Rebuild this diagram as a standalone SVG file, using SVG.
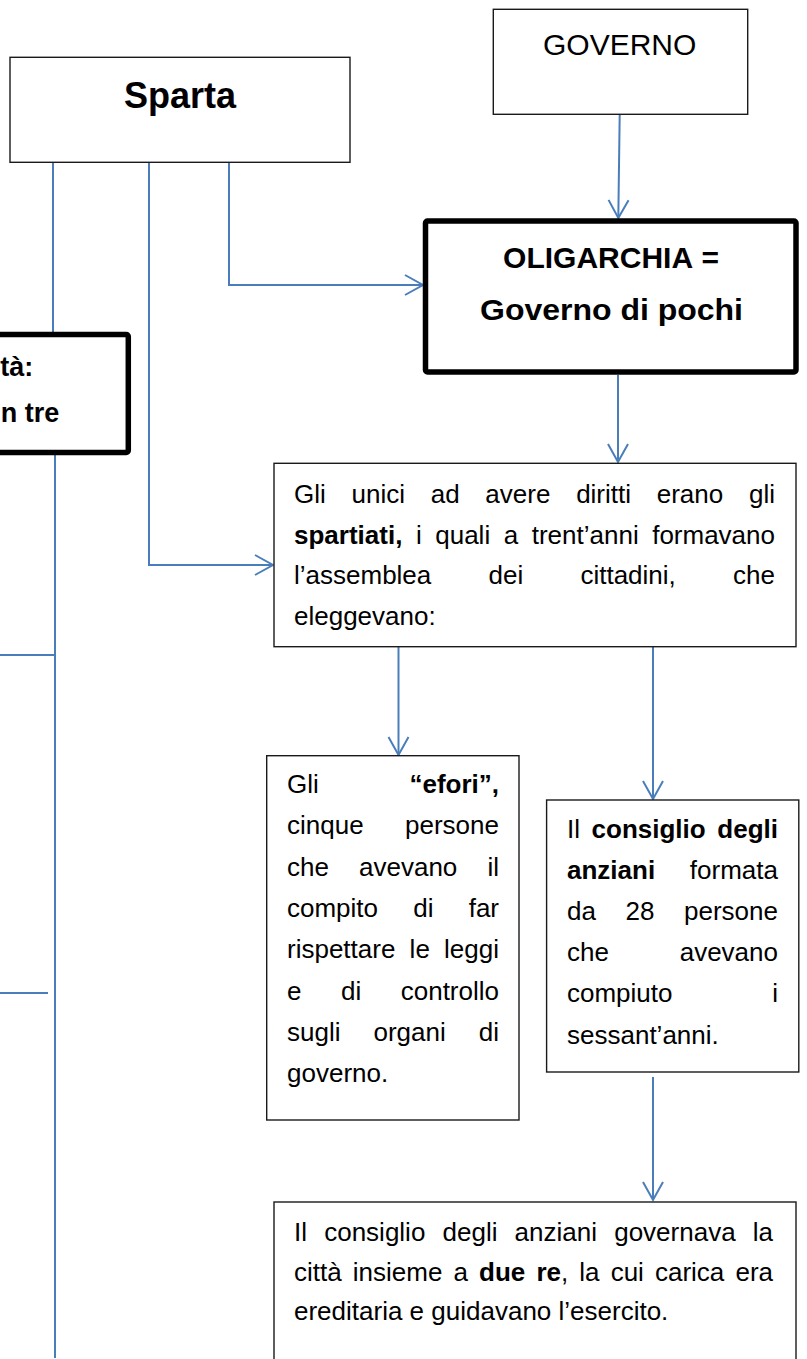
<svg xmlns="http://www.w3.org/2000/svg" width="807" height="1359" viewBox="0 0 807 1359">
<style>
text{font-family:"Liberation Sans",Arial,sans-serif;fill:#000;font-kerning:none}
.t{font-size:26px}
.b{font-weight:bold}
.e{text-anchor:end}
.m{text-anchor:middle}
.box{fill:#fff;stroke:#1a1a1a;stroke-width:1.4}
.thick{fill:#fff;stroke:#000;stroke-width:5.5}
.c{fill:none;stroke:#4a7ebb;stroke-width:2}
.a{marker-end:url(#arr)}
</style>
<defs>
<marker id="arr" markerUnits="userSpaceOnUse" viewBox="-20 -12 22 24" markerWidth="22" markerHeight="24" refX="0" refY="0" orient="auto" overflow="visible">
<path d="M-18,-10 L0,0 L-18,10" fill="none" stroke="#4a7ebb" stroke-width="2"/>
</marker>
</defs>
<rect width="807" height="1359" fill="#fff"/>

<g id="connectors">
<path class="c" d="M53,162 V333"/>
<path class="c" d="M55,455 V1358"/>
<path class="c" d="M0,655 H55"/>
<path class="c" d="M0,993 H48"/>
<path class="c a" d="M149,162 V565 H273"/>
<path class="c a" d="M229,162 V285 H423"/>
<path class="c a" d="M619.7,114.3 L618.3,218"/>
<path class="c a" d="M618,375 V462"/>
<path class="c a" d="M398.5,647 V755"/>
<path class="c a" d="M653,647 V799"/>
<path class="c a" d="M653,1077 V1200"/>
</g>

<g id="node-sparta">
<rect class="box" x="10" y="57.3" width="340" height="105"/>
<text class="b m" x="180" y="108.3" font-size="36">Sparta</text>
</g>

<g id="node-governo">
<rect class="box" x="493.3" y="9.3" width="254.4" height="105"/>
<text class="m" x="619.7" y="54.5" font-size="30">GOVERNO</text>
</g>

<g id="node-oligarchia">
<rect class="thick" x="425.5" y="221" width="370.5" height="151" rx="2"/>
<text class="b m" x="611" y="268.3" font-size="30">OLIGARCHIA =</text>
<text class="b" x="480" y="320" font-size="30" textLength="263" lengthAdjust="spacingAndGlyphs">Governo di pochi</text>
</g>

<g id="node-societa">
<rect class="thick" x="-20" y="334.5" width="148.3" height="118" rx="2" stroke-width="4.5"/>
<text class="b e" x="33.3" y="376" font-size="27">tà:</text>
<text class="b e" x="59.3" y="421.7" font-size="27">n tre</text>
</g>

<g id="node-spartiati" class="t">
<rect class="box" x="274" y="463.3" width="522" height="183.4"/>
<text class="t" y="503"><tspan x="294">Gli</tspan><tspan x="351.51">unici</tspan><tspan x="430.71">ad</tspan><tspan x="485.36">avere</tspan><tspan x="576.13">diritti</tspan><tspan x="656.76">erano</tspan></text>
<text class="t e" x="775" y="503">gli</text>
<text class="t" y="543.5"><tspan x="294" class="b">spartiati,</tspan><tspan x="415.92">i</tspan><tspan x="435.24">quali</tspan><tspan x="503.7">a</tspan><tspan x="531.71">trent’anni</tspan></text>
<text class="t e" x="775" y="543.5">formavano</text>
<text class="t" y="584"><tspan x="294">l’assemblea</tspan><tspan x="488.51">dei</tspan><tspan x="580.45">cittadini,</tspan></text>
<text class="t e" x="775" y="584">che</text>
<text class="t" x="294" y="624.5">eleggevano:</text>
</g>

<g id="node-efori">
<rect class="box" x="266.7" y="755.7" width="252.3" height="364.3"/>
<text class="t" x="287" y="793">Gli</text>
<text class="t e b" x="499" y="793">“efori”,</text>
<text class="t" x="287" y="834.3">cinque</text>
<text class="t e" x="499" y="834.3">persone</text>
<text class="t" y="875.6"><tspan x="287">che</tspan><tspan x="359.04">avevano</tspan></text>
<text class="t e" x="499" y="875.6">il</text>
<text class="t" y="916.9"><tspan x="287">compito</tspan><tspan x="413.23">di</tspan></text>
<text class="t e" x="499" y="916.9">far</text>
<text class="t" y="958.2"><tspan x="287">rispettare</tspan><tspan x="409.62">le</tspan></text>
<text class="t e" x="499" y="958.2">leggi</text>
<text class="t" y="999.5"><tspan x="287">e</tspan><tspan x="340.99">di</tspan></text>
<text class="t e" x="499" y="999.5">controllo</text>
<text class="t" y="1040.8"><tspan x="287">sugli</tspan><tspan x="373.49">organi</tspan></text>
<text class="t e" x="499" y="1040.8">di</text>
<text class="t" x="287" y="1082.1">governo.</text>
</g>

<g id="node-consiglio">
<rect class="box" x="546.6" y="800" width="252.2" height="272"/>
<text class="t" y="838"><tspan x="567">Il</tspan><tspan x="591.59" class="b">consiglio</tspan></text>
<text class="t e b" x="778" y="838">degli</text>
<text class="t b" x="567" y="879.1">anziani</text>
<text class="t e" x="778" y="879.1">formata</text>
<text class="t" y="920.2"><tspan x="567">da</tspan><tspan x="625.53">28</tspan></text>
<text class="t e" x="778" y="920.2">persone</text>
<text class="t" x="567" y="961.3">che</text>
<text class="t e" x="778" y="961.3">avevano</text>
<text class="t" x="567" y="1002.4">compiuto</text>
<text class="t e" x="778" y="1002.4">i</text>
<text class="t" x="567" y="1043.5">sessant’anni.</text>
</g>

<g id="node-re">
<rect class="box" x="274" y="1202" width="522" height="220"/>
<text class="t" y="1241"><tspan x="294">Il</tspan><tspan x="324.19">consiglio</tspan><tspan x="442.52">degli</tspan><tspan x="514.62">anziani</tspan><tspan x="614.18">governava</tspan></text>
<text class="t e" x="773" y="1241">la</text>
<text class="t" y="1280.5"><tspan x="294">città</tspan><tspan x="352.79">insieme</tspan><tspan x="453.47">a</tspan><tspan x="479.04" class="b">due</tspan><tspan x="536.38" class="b">re</tspan><tspan>,</tspan><tspan x="579.29">la</tspan><tspan x="610.63">cui</tspan><tspan x="654.97">carica</tspan></text>
<text class="t e" x="773" y="1280.5">era</text>
<text class="t" x="294" y="1320">ereditaria e guidavano l’esercito.</text>
</g>
</svg>
